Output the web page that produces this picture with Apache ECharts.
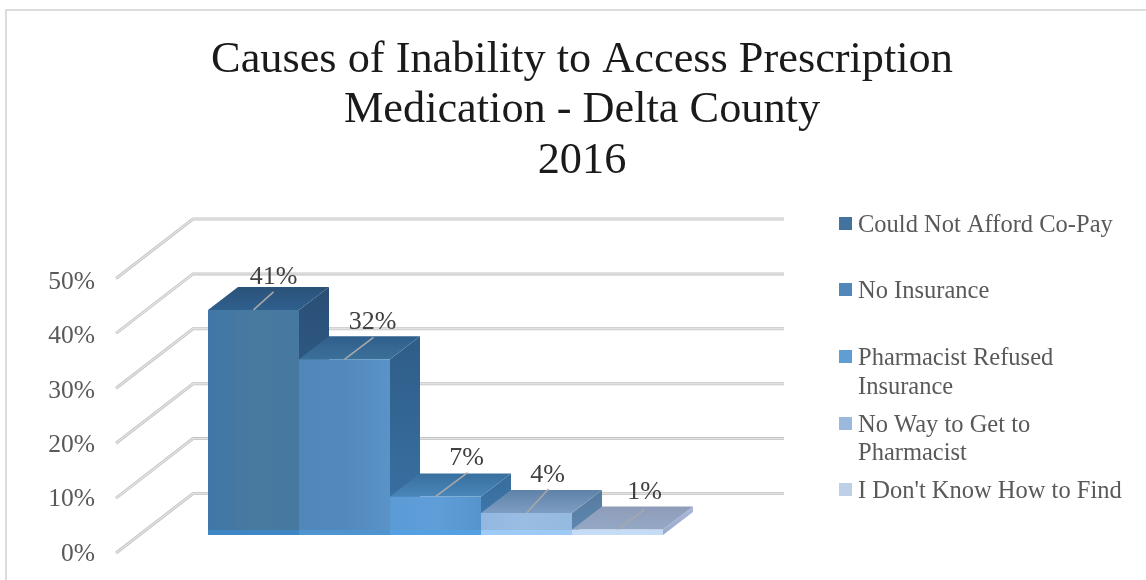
<!DOCTYPE html>
<html><head><meta charset="utf-8">
<style>html,body{margin:0;padding:0;background:#fff}#c{width:1146px;height:580px}</style>
<script src="https://cdn.jsdelivr.net/npm/echarts@6/dist/echarts.min.js"></script>
</head><body><div id="c"></div>
<script>
const titleLines = ['Causes of Inability to Access Prescription', 'Medication - Delta County', '2016'];
const categories = ['Could Not Afford Co-Pay', 'No Insurance', 'Pharmacist Refused\nInsurance', 'No Way to Get to\nPharmacist', "I Don't Know How to Find"];
const values = [41, 32, 7, 4, 1];
const axisTicks = [0, 10, 20, 30, 40, 50];

const FONT = '"Liberation Serif", serif';
const TEXT = '#595959';
const faces = [
  {front: ['#3f77a8', '#48799f', '#47789f'], band: '#3f86c4', top: ['#2f5f8e', '#2b5278'], side: ['#2a4f76', '#356a9c'], swatch: '#44729f'},
  {front: ['#5088bb', '#5289bd', '#5a93c8'], band: '#4f93cf', top: ['#3b7099', '#2f5f8c'], side: ['#2f5d88', '#3a73a6'], swatch: '#5288b9'},
  {front: ['#5b9bd5', '#5f9ed8', '#5594cc'], band: '#55a0e2', top: ['#4a86b9', '#38709f'], side: ['#386c9a', '#3f7cb2'], swatch: '#5f9dd3'},
  {front: ['#92b8e2', '#9abde2', '#94bae0'], band: '#9ecbf5', top: ['#7e9dc2', '#5f82a8'], side: ['#557c9e', '#5f86b2'], swatch: '#9ab9dd'},
  {front: ['#b9d2f0', '#c5d9f2', '#b7d0ee'], band: '#c5dcf6', top: ['#93a8c4', '#8f9cba'], side: ['#a9b8da', '#9aa9cc'], swatch: '#bdd0e8'}
];
// depth of the 3D box and of the whole floor, in pixels
const BOX = {dx: 30, dy: -23};
const WALL = {dx: 77, dy: -59.5, right: 784};
const leaders = [{dx: 20, dy: -18, lx: 20, ly: -33}, {dx: 29, dy: -22, lx: 28, ly: -37}, {dx: 32, dy: -24, lx: 31, ly: -38}, {dx: 22, dy: -24, lx: 21, ly: -38}, {dx: 27, dy: -20, lx: 27, ly: -37}];
const legendCentres = [225, 291, 358, 425, 491];

const grad = (x0, y0, x1, y1, cols) => new echarts.graphic.LinearGradient(x0, y0, x1, y1,
  cols.map((c, i) => ({offset: i / (cols.length - 1), color: c})));

const wallSeries = {
  type: 'custom', xAxisIndex: 0, yAxisIndex: 0, z: 1, silent: true, legendHoverLink: false,
  data: axisTicks.map(t => [0, t]),
  renderItem(params, api) {
    const p = api.coord([0, api.value(1)]);
    const pts = [p, [p[0] + WALL.dx, p[1] + WALL.dy], [WALL.right, p[1] + WALL.dy]];
    return {type: 'group', children: [
      {type: 'polyline', shape: {points: pts}, style: {stroke: '#c4c4c4', lineWidth: 3, fill: null}},
      {type: 'polyline', shape: {points: pts}, style: {stroke: '#e2e2e2', lineWidth: 1.4, fill: null}}
    ]};
  }
};

const barSeries = categories.map((name, i) => ({
  type: 'custom', name: name.replace('\n', ' '), xAxisIndex: 1, yAxisIndex: 1, z: 2 + i, silent: true,
  itemStyle: {color: faces[i].swatch},
  data: [[i, values[i]]],
  renderItem(params, api) {
    const f = faces[i];
    const v = api.value(1);
    const c = api.coord([api.value(0), v]);
    const base = api.coord([api.value(0), 0]);
    const w = api.size([1, 0])[0];
    const l = c[0] - w / 2, r = c[0] + w / 2, t = c[1], b = base[1];
    const {dx, dy} = BOX;
    const L = leaders[i];
    return {type: 'group', children: [
      {type: 'polygon', shape: {points: [[r, t], [r + dx, t + dy], [r + dx, b + dy], [r, b]]},
        style: {fill: grad(0, 0, 0, 1, f.side)}},
      {type: 'polygon', shape: {points: [[l, t], [l + dx, t + dy], [r + dx, t + dy], [r, t]]},
        style: {fill: grad(0, 1, 0, 0, f.top)}},
      {type: 'rect', shape: {x: l, y: t, width: r - l, height: b - t},
        style: {fill: grad(0, 0, 1, 0, f.front)}},
      {type: 'rect', shape: {x: l, y: Math.max(t, b - 5), width: r - l, height: Math.min(5, b - t)},
        style: {fill: f.band}},
      {type: 'line', shape: {x1: c[0], y1: t, x2: c[0] + L.dx, y2: t + L.dy},
        style: {stroke: '#a9a9a9', lineWidth: 1.5}},
      {type: 'text', z2: 10, style: {text: v + '%', x: c[0] + L.lx, y: t + L.ly, align: 'center', verticalAlign: 'middle',
        font: '26px ' + FONT, fill: '#404040'}}
    ]};
  }
}));

const legends = categories.map((name, i) => ({
  data: [{name: name.replace('\n', ' '), icon: 'rect'}],
  left: 839, top: legendCentres[i] - 16, orient: 'vertical',
  itemWidth: 13, itemHeight: 13, itemGap: 0, selectedMode: false, padding: 0,
  formatter: () => '{a|' + name.split('\n')[0] + '}',
  textStyle: {rich: {a: {fontFamily: FONT, fontSize: 24.5, color: TEXT, lineHeight: 28, padding: [4, 0, 0, 1]}}}
}));

const secondLines = categories.map((name, i) => name.includes('\n') ? {
  type: 'text', left: 858, top: legendCentres[i] + (i === 2 ? 17 : 16),
  style: {text: name.split('\n')[1], font: '24.5px ' + FONT, fill: TEXT}
} : null).filter(Boolean);

const chart = echarts.init(document.getElementById('c'), null, {renderer: 'canvas'});
chart.setOption({
  animation: false,
  backgroundColor: '#fff',
  title: {
    text: titleLines.join('\n'), left: 577, top: 30, textAlign: 'center',
    textStyle: {fontFamily: FONT, fontSize: 44.3, fontWeight: 'normal', color: '#1a1a1a', lineHeight: 50.5}
  },
  legend: legends,
  grid: [
    {left: 116, top: 278.5, width: 668, height: 274.5},
    {left: 208, top: 260.5, width: 455, height: 274.5},
    {left: 116, top: 282, width: 668, height: 272}
  ],
  xAxis: [
    {type: 'value', gridIndex: 0, min: 0, max: 1, show: false},
    {type: 'category', gridIndex: 1, data: categories, show: false},
    {type: 'value', gridIndex: 2, min: 0, max: 1, show: false}
  ],
  yAxis: [
    {type: 'value', gridIndex: 0, min: 0, max: 50, interval: 10, show: false},
    {type: 'value', gridIndex: 1, min: 0, max: 50, interval: 10, show: false},
    {type: 'value', gridIndex: 2, min: 0, max: 50, interval: 10, splitLine: {show: false}, axisLine: {show: false}, axisTick: {show: false},
      axisLabel: {formatter: '{value}%', margin: 21, fontFamily: FONT, fontSize: 25.5, color: TEXT}}
  ],
  graphic: [
    {type: 'line', z: -1, silent: true, shape: {x1: 5, y1: 10, x2: 1146, y2: 10}, style: {stroke: '#dcdcdc', lineWidth: 2}},
    {type: 'line', z: -1, silent: true, shape: {x1: 6, y1: 9, x2: 6, y2: 580}, style: {stroke: '#dcdcdc', lineWidth: 2}},
    ...secondLines
  ],
  series: [wallSeries, ...barSeries]
});
</script></body></html>
